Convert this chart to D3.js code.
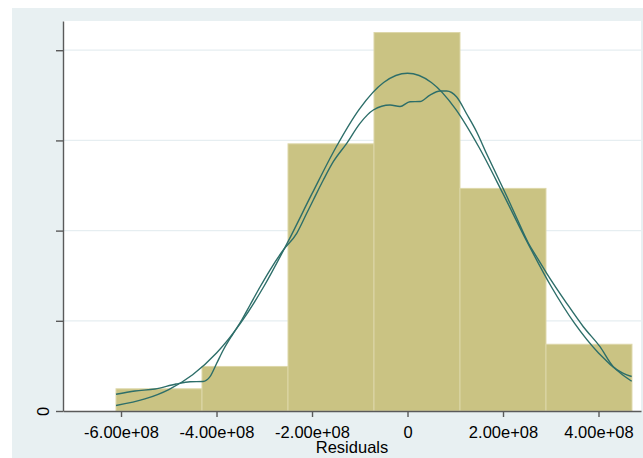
<!DOCTYPE html>
<html>
<head>
<meta charset="utf-8">
<script src="https://cdn.jsdelivr.net/npm/d3@7"></script>
<style>
  body { margin: 0; background: #ffffff; }
  text { font-family: "Liberation Sans", Arial, sans-serif; }
</style>
</head>
<body>
<div id="chart"></div>
<script>
// histogram of residuals, density scale
let binEdges = [-6.105e8, -4.304e8, -2.503e8, -0.702e8, 1.099e8, 2.900e8, 4.701e8];
let binDensity = [1.23e-10, 2.47e-10, 14.81e-10, 20.98e-10, 12.34e-10, 3.70e-10];

// kernel density curve
let kdeX = [-6.105e8, -5.707e8, -5.288e8, -4.848e8, -4.555e8, -4.283e8, -4.136e8, -3.996e8,
    -3.858e8, -3.648e8, -3.472e8, -3.298e8, -3.089e8, -2.880e8, -2.601e8, -2.320e8, -2.111e8,
    -1.973e8, -1.763e8, -1.554e8, -1.273e8, -0.995e8, -0.716e8, -0.366e8, -0.157e8, 0.052e8,
    0.262e8, 0.471e8, 0.681e8, 0.821e8, 1.030e8, 1.240e8, 1.449e8, 1.659e8, 1.868e8, 2.077e8,
    2.287e8, 2.530e8, 2.706e8, 2.915e8, 3.334e8, 3.682e8, 4.031e8, 4.310e8, 4.519e8, 4.695e8];
let kdeY = [0.926e-10, 1.109e-10, 1.220e-10, 1.497e-10, 1.624e-10, 1.635e-10, 1.901e-10, 2.644e-10,
    3.381e-10, 4.307e-10, 5.044e-10, 5.876e-10, 6.874e-10, 7.816e-10, 8.925e-10, 9.850e-10, 10.959e-10,
    11.696e-10, 12.805e-10, 13.819e-10, 14.839e-10, 15.948e-10, 16.685e-10, 16.962e-10, 16.879e-10, 17.145e-10,
    17.156e-10, 17.517e-10, 17.738e-10, 17.738e-10, 17.406e-10, 16.463e-10, 15.466e-10, 14.246e-10, 13.082e-10, 11.918e-10,
    10.698e-10, 9.313e-10, 8.537e-10, 7.633e-10, 5.970e-10, 4.673e-10, 3.564e-10, 2.456e-10, 2.090e-10, 1.912e-10];

// normal density curve
let normX = [-6.105e8, -5.5e8, -5.0e8, -4.5e8, -4.0e8, -3.5e8, -3.0e8, -2.5e8, -2.0e8, -1.5e8, -1.0e8,
    -0.5e8, 0, 0.5e8, 1.0e8, 1.5e8, 2.0e8, 2.5e8, 3.0e8, 3.5e8, 4.0e8, 4.5e8, 4.695e8];
let normY = [0.308e-10, 0.668e-10, 1.191e-10, 2.010e-10, 3.210e-10, 4.853e-10, 6.943e-10, 9.401e-10,
    12.047e-10, 14.609e-10, 16.767e-10, 18.211e-10, 18.72e-10, 18.211e-10, 16.767e-10, 14.609e-10,
    12.047e-10, 9.401e-10, 6.943e-10, 4.853e-10, 3.210e-10, 2.010e-10, 1.649e-10];

let xTicks = [-6e8, -4e8, -2e8, 0, 2e8, 4e8];
let xTickLabels = ["-6.00e+08", "-4.00e+08", "-2.00e+08", "0", "2.00e+08", "4.00e+08"];
let yTicks = [0, 5e-10, 1e-9, 1.5e-9, 2e-9];
let yTickLabels = ["0", "", "", "", ""];

let width = 643,
    height = 458;
let margin = {
    top: 21,
    right: 2,
    bottom: 47,
    left: 63
};

let barColor = '#cac383';
let lineColor = '#2d6e69';

let svg = d3.select("#chart")
    .append("svg")
    .attr("width", width)
    .attr("height", height);

// outer graph region
svg.append("rect")
    .attr("x", 12)
    .attr("y", 8)
    .attr("width", width - 12)
    .attr("height", height - 8)
    .style("fill", "#e8f0f2");

// plot region
svg.append("rect")
    .attr("x", margin.left)
    .attr("y", margin.top)
    .attr("width", width - margin.left - margin.right)
    .attr("height", height - margin.top - margin.bottom)
    .style("fill", "#ffffff");

let x = d3.scaleLinear()
    .domain([-7.215e8, 4.890e8])
    .range([margin.left, width - margin.right]);

let y = d3.scaleLinear()
    .domain([0, 21.62e-10])
    .range([height - margin.bottom, margin.top]);

// gridlines
svg.selectAll(".grid")
    .data(yTicks.filter(d => d > 0))
    .enter()
    .append("line")
    .attr("class", "grid")
    .attr("x1", margin.left)
    .attr("x2", width - margin.right)
    .attr("y1", d => y(d))
    .attr("y2", d => y(d))
    .style("stroke", "#e6eef1")
    .style("stroke-width", 1.3);

// bars
svg.selectAll(".bar")
    .data(binDensity)
    .enter()
    .append("rect")
    .attr("class", "bar")
    .attr("x", (d, i) => x(binEdges[i]))
    .attr("y", d => y(d))
    .attr("width", (d, i) => x(binEdges[i + 1]) - x(binEdges[i]))
    .attr("height", d => y(0) - y(d))
    .style("fill", barColor)
    .style("stroke", "#ddd7a9")
    .style("stroke-width", 1);

// curves
let line = d3.line()
    .x(d => x(d[0]))
    .y(d => y(d[1]))
    .curve(d3.curveMonotoneX);

svg.append("path")
    .datum(kdeX.map((v, i) => [v, kdeY[i]]))
    .attr("d", line)
    .style("fill", "none")
    .style("stroke", lineColor)
    .style("stroke-width", 1.4);

svg.append("path")
    .datum(normX.map((v, i) => [v, normY[i]]))
    .attr("d", line)
    .style("fill", "none")
    .style("stroke", lineColor)
    .style("stroke-width", 1.4);

// x axis
let xAxis = svg.append("g")
    .attr("transform", "translate(0," + (height - margin.bottom) + ")")
    .call(d3.axisBottom(x)
        .tickValues(xTicks)
        .tickFormat((d, i) => xTickLabels[i])
        .tickSize(6)
        .tickSizeOuter(0)
        .tickPadding(9));

xAxis.selectAll("text")
    .style("font-size", "16.5px")
    .style("fill", "#000");

// y axis
let yAxis = svg.append("g")
    .attr("transform", "translate(" + margin.left + ",0)")
    .call(d3.axisLeft(y)
        .tickValues(yTicks)
        .tickFormat((d, i) => yTickLabels[i])
        .tickSize(7)
        .tickSizeOuter(0));

yAxis.selectAll("text")
    .attr("transform", "rotate(-90)")
    .attr("x", 0)
    .attr("y", -14)
    .attr("dy", 0)
    .style("text-anchor", "middle")
    .style("font-size", "16.5px")
    .style("fill", "#000");

svg.selectAll(".domain, .tick line")
    .style("stroke", "#5a5a5a")
    .style("stroke-width", 1.4);

// axis title
svg.append("text")
    .attr("x", (margin.left + width - margin.right) / 2)
    .attr("y", 453)
    .attr("text-anchor", "middle")
    .style("font-size", "16.5px")
    .style("fill", "#000")
    .text("Residuals");
</script>
</body>
</html>
